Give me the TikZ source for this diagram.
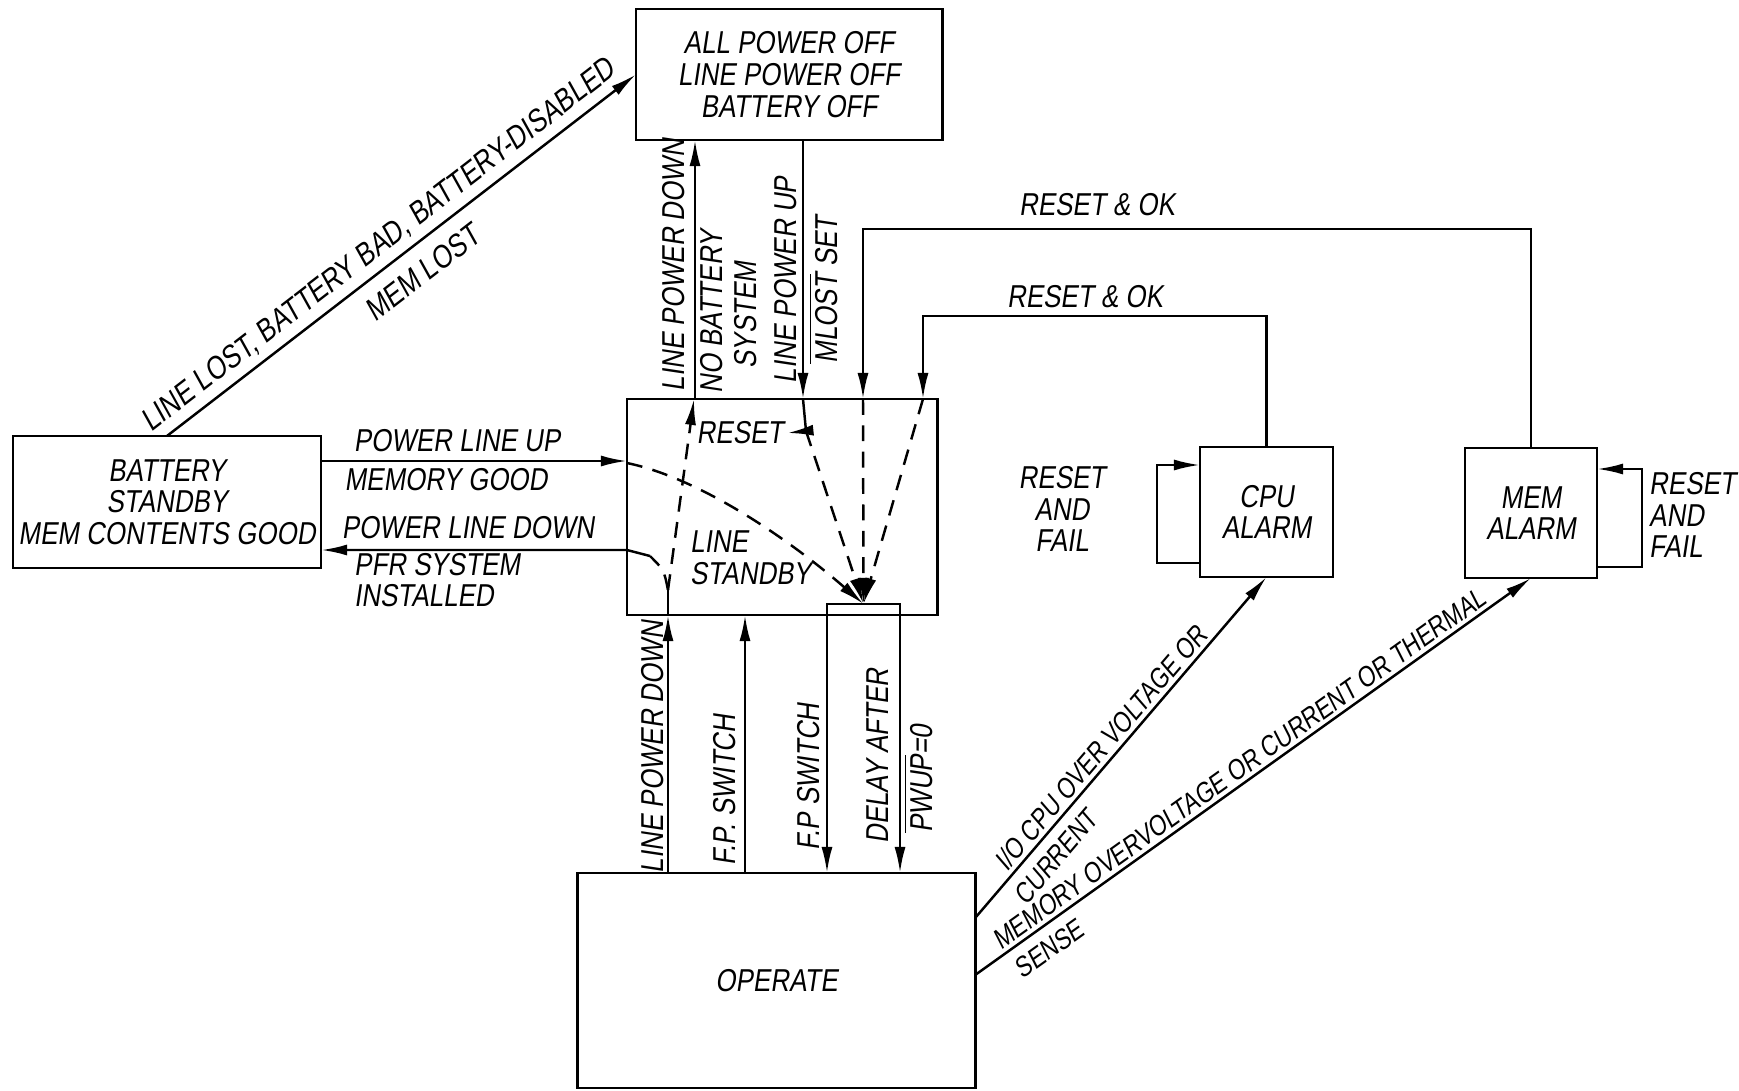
\documentclass[tikz,border=0pt]{standalone}
\usepackage{fontspec}
\newfontfamily\sketchfont{Liberation Sans}[FakeStretch=0.82,FakeSlant=0.15]
\usetikzlibrary{arrows.meta}
\tikzset{
    state/.style={draw, rectangle, line width=0.8pt, inner sep=0pt, outer sep=0pt, align=center, font=\sketchfont\fontsize{9}{9}\selectfont},
    trans/.style={-{Latex[length=2.6mm, width=1.1mm]}, line width=0.7pt},
    guard/.style={trans, dash pattern=on 4.5pt off 3pt},
    lbl/.style={inner sep=1pt, align=center, font=\sketchfont\fontsize{9}{9}\selectfont},
    edgelbl/.style={lbl, font=\sketchfont\fontsize{8}{8}\selectfont}
}
\begin{document}
\begin{tikzpicture}[x=0.01cm, y=-0.01cm]
            \useasboundingbox (0,0) rectangle (1739,1091);
            \node[state, minimum width=3.06cm, minimum height=1.31cm] (off) at (789,74.5) {ALL POWER OFF\\LINE POWER OFF\\BATTERY OFF};
            \node[state, minimum width=3.08cm, minimum height=1.32cm] (bsb) at (167,502) {BATTERY\\STANDBY\\MEM CONTENTS GOOD};
            \node[state, minimum width=3.10cm, minimum height=2.16cm] (lsb) at (782,507) {};
            \node[lbl, align=left, anchor=west] (lsbtxt) at (686,558) {LINE\\STANDBY};
            \node[state, minimum width=0.73cm, minimum height=0.11cm] (gate) at (863.5,609.5) {};
            \node[state, minimum width=3.97cm, minimum height=2.15cm] (op) at (776.5,980.5) {OPERATE};
            \node[state, minimum width=1.33cm, minimum height=1.30cm] (cpu) at (1266.5,512) {CPU\\ALARM};
            \node[state, minimum width=1.32cm, minimum height=1.30cm] (mem) at (1531,513) {MEM\\ALARM};

            \draw[trans] (bsb.north) -- (off.west)
                node[lbl, pos=0.48, sloped, above=1pt] (lost) {LINE LOST, BATTERY BAD, BATTERY-DISABLED}
                node[lbl, pos=0.51, sloped, below=3pt] (memlost) {MEM LOST};

            \draw[trans] (bsb.east |- 0,461) -- (lsb.west |- 0,461);
            \node[lbl] (plu) at (457,441) {POWER LINE UP};
            \node[lbl] (memgood) at (446,480) {MEMORY GOOD};
            \coordinate (pld) at (650,556);
            \draw[trans] (pld) -- (lsb.west |- 0,550) -- (bsb.east |- 0,550);
            \node[lbl] (pldtxt) at (468,528) {POWER LINE DOWN};
            \node[lbl, align=left, anchor=west] (pfr) at (350,580) {PFR SYSTEM\\INSTALLED};

            \draw[trans] (695,0 |- lsb.north) -- (695,0 |- off.south);
            \draw[trans] (803,0 |- off.south) -- (803,0 |- lsb.north);
            \node[lbl, rotate=90] (lpd1) at (674,265) {LINE POWER DOWN};
            \node[lbl, rotate=90] (nobat) at (712,312) {NO BATTERY};
            \node[lbl, rotate=90] (sys) at (746,315) {SYSTEM};
            \node[lbl, rotate=90] (lpu) at (786,280) {LINE POWER UP};
            \node[lbl, rotate=90] (mlost) at (823,290) {$\overline{\hbox{MLOST}}$ SET};

            \coordinate (rst) at (806,431);
            \draw[line width=0.7pt] (803,0 |- lsb.north) -- (rst);
            \node[lbl] (rsttxt) at (740,433) {RESET};
            \draw[trans] (rst) -- (rsttxt.east);

            \draw[guard] (lsb.west |- 0,463) .. controls (700,478) and (790,540) .. (gate.north);
            \draw[guard] (rst) -- (gate.north);
            \draw[guard] (863,0 |- lsb.north) -- (gate.north);
            \draw[guard] (923,0 |- lsb.north) -- (gate.north);

            \coordinate (lpd) at (668,590);
            \draw[trans] (668,0 |- op.north) -- (668,0 |- lsb.south);
            \draw[line width=0.7pt] (668,0 |- lsb.south) -- (lpd);
            \draw[guard] (lpd) -- (694,0 |- lsb.north);
            \draw[line width=0.7pt, dash pattern=on 4.5pt off 3pt] (lpd) .. controls (664,570) .. (pld);

            \draw[trans] (745,0 |- op.north) -- (745,0 |- lsb.south);
            \draw[trans] (gate.south west) -- (gate.south west |- op.north);
            \draw[trans] (gate.south east) -- (gate.south east |- op.north);
            \node[lbl, rotate=90] (lpd2) at (653,747) {LINE POWER DOWN};
            \node[lbl, rotate=90] (fp1) at (725,790) {F.P. SWITCH};
            \node[lbl, rotate=90] (fp2) at (809,777) {F.P SWITCH};
            \node[lbl, rotate=90] (dly) at (878,756) {DELAY AFTER};
            \node[lbl, rotate=90] (pwup) at (918,779) {$\overline{\hbox{PWUP}}$=0};

            \draw[trans] (op.east |- 0,918) -- (cpu.south)
                node[edgelbl, pos=0.47, sloped, above] (cpuov) {I/O CPU OVER VOLTAGE OR}
                node[edgelbl, pos=0.22, sloped, below=2pt] (cpucur) {CURRENT};
            \draw[trans] (op.east |- 0,975) -- (mem.south)
                node[edgelbl, pos=0.49, sloped, above] (memov) {MEMORY OVERVOLTAGE OR CURRENT OR THERMAL}
                node[edgelbl, pos=0.11, sloped, below=2pt] (memsense) {SENSE};

            \draw[trans] (cpu.west |- 0,563) -| (1157,465) -- (cpu.west |- 0,465);
            \node[lbl] (cpufail) at (1062,509) {RESET\\AND\\FAIL};
            \draw[trans] (mem.east |- 0,567) -| (1642,469) -- (mem.east |- 0,469);
            \node[lbl, align=left, anchor=west] (memfail) at (1645,515) {RESET\\AND\\FAIL};

            \draw[trans] (cpu.north) |- (923,316) -- (923,0 |- lsb.north);
            \node[lbl] (ok1) at (1085,297) {RESET \& OK};
            \draw[trans] (mem.north) |- (863,229) -- (863,0 |- lsb.north);
            \node[lbl] (ok2) at (1097,205) {RESET \& OK};
        \end{tikzpicture}
\end{document}
